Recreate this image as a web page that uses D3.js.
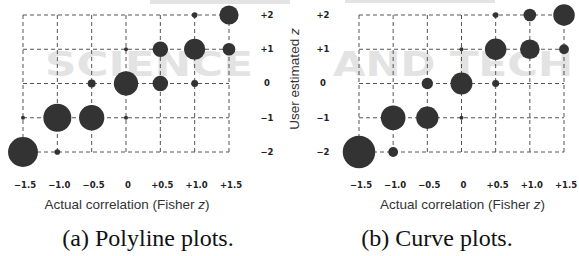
<!DOCTYPE html>
<html>
<head>
<meta charset="utf-8">
<script src="https://cdn.jsdelivr.net/npm/d3@7"></script>
<style>
  body { margin: 0; background: #fff; }
  svg { display: block; }
  .tick { font-family: "DejaVu Sans", sans-serif; font-size: 8.5px; font-weight: bold; fill: #222; }
  .title { font-family: "Liberation Sans", Arial, sans-serif; font-size: 13.5px; fill: #333; }
  .caption { font-family: "Liberation Serif", "Times New Roman", serif; font-size: 24px; fill: #111; }
</style>
</head>
<body>
<div id="vizHolder"></div>
<script>
var width = 579,
    height = 256;

// ticks
var xTicks  = [-1.5, -1, -0.5, 0, 0.5, 1, 1.5],
    xLabels = ['\u22121.5', '\u22121.0', '\u22120.5', '0', '+0.5', '+1.0', '+1.5'],
    yTicks  = [-2, -1, 0, 1, 2],
    yLabels = ['\u22122', '\u22121', '0', '+1', '+2'];

// (actual z, estimated z, count)
var polylineX = [ 1.0, 1.5,  0, 0.5, 1.0, 1.5,  -0.5, 0, 0.5, 1.0,  -1.5, -1.0, -0.5, 0,  -1.5, -1.0],
    polylineY = [ 2,   2,    1, 1,   1,   1,     0,   0, 0,   0,    -1,   -1,   -1,  -1,  -2,   -2],
    polylineN = [ 2,   23,   1, 15,  28,  10,    4,   37, 15, 3,     1,   49,   40,   1,   56,   2];

var curveX = [ 0.5, 1.0, 1.5,  0, 0.5, 1.0, 1.5,  -0.5, 0, 0.5,  -1.0, -0.5, 0,  -1.5, -1.0],
    curveY = [ 2,   2,   2,    1, 1,   1,   1,     0,   0, 0,    -1,   -1,  -1,  -2,   -2],
    curveN = [ 2,   10,  29,   1, 29,  24,  6,     8,   30, 3,    38,   31,   1,   66,   6];

var panels = [
  { name: 'a', x0: 23,  x1: 229, tickX: 267, capX: 148, caption: '(a) Polyline plots.', xs: polylineX, ys: polylineY, ns: polylineN },
  { name: 'b', x0: 359, x1: 564, tickX: 323, capX: 437, caption: '(b) Curve plots.',    xs: curveX,    ys: curveY,    ns: curveN }
];

var svg = d3.select('#vizHolder')
      .append('svg')
      .attr('width', width)
      .attr('height', height);

// faint publisher watermark behind everything
var wm = svg.append('g').attr('fill', '#e3e3e3')
      .style('font-family', '"DejaVu Sans", sans-serif')
      .style('font-weight', 'bold');
wm.append('rect').attr('x', 150).attr('y', 0).attr('width', 140).attr('height', 4);
wm.append('rect').attr('x', 345).attr('y', 0).attr('width', 150).attr('height', 3);
wm.append('text').attr('x', 45).attr('y', 76).attr('font-size', 33)
    .attr('textLength', 208).attr('lengthAdjust', 'spacingAndGlyphs').text('SCIENCE');
wm.append('text').attr('x', 333).attr('y', 76).attr('font-size', 33)
    .attr('textLength', 240).attr('lengthAdjust', 'spacingAndGlyphs').text('AND TECH');

var y = d3.scaleLinear().domain([-2, 2]).range([152, 15]);
var r = d3.scaleSqrt().domain([0, 64]).range([0, 16]);

panels.forEach(function(p) {
  var x = d3.scaleLinear().domain([-1.5, 1.5]).range([p.x0, p.x1]);
  var g = svg.append('g').attr('class', 'panel-' + p.name);

  // dashed grid
  g.selectAll('line.h').data(yTicks).enter()
    .append('line').attr('class', 'h')
    .attr('x1', x(-1.5)).attr('x2', x(1.5))
    .attr('y1', function(d) { return y(d); })
    .attr('y2', function(d) { return y(d); })
    .attr('stroke', '#555').attr('stroke-dasharray', '4,3');

  g.selectAll('line.v').data(xTicks).enter()
    .append('line').attr('class', 'v')
    .attr('y1', y(2)).attr('y2', y(-2))
    .attr('x1', function(d) { return x(d); })
    .attr('x2', function(d) { return x(d); })
    .attr('stroke', '#555').attr('stroke-dasharray', '4,3');

  // bubbles
  var pts = p.xs.map(function(d, i) { return { x: d, y: p.ys[i], n: p.ns[i] }; });
  g.selectAll('circle').data(pts).enter()
    .append('circle')
    .attr('cx', function(d) { return x(d.x); })
    .attr('cy', function(d) { return y(d.y); })
    .attr('r', function(d) { return r(d.n); })
    .attr('fill', '#333');

  // tick labels
  g.selectAll('text.xt').data(xTicks).enter()
    .append('text').attr('class', 'tick xt')
    .attr('x', function(d) { return x(d) + 2; })
    .attr('y', 188)
    .attr('text-anchor', 'middle')
    .text(function(d, i) { return xLabels[i]; });

  g.selectAll('text.yt').data(yTicks).enter()
    .append('text').attr('class', 'tick yt')
    .attr('x', p.tickX)
    .attr('y', function(d) { return y(d); })
    .attr('dy', '0.35em')
    .attr('text-anchor', 'middle')
    .text(function(d, i) { return yLabels[i]; });

  var t = g.append('text').attr('class', 'title')
    .attr('x', (p.x0 + p.x1) / 2 + 1)
    .attr('y', 209)
    .attr('text-anchor', 'middle');
  t.append('tspan').text('Actual correlation (Fisher ');
  t.append('tspan').style('font-style', 'italic').text('z');
  t.append('tspan').text(')');

  g.append('text').attr('class', 'caption')
    .attr('x', p.capX)
    .attr('y', 246)
    .attr('text-anchor', 'middle')
    .text(p.caption);
});

// shared y axis title between the panels
var yt = svg.append('text').attr('class', 'title')
    .attr('transform', 'translate(299,79) rotate(-90)')
    .attr('text-anchor', 'middle');
yt.append('tspan').text('User estimated ');
yt.append('tspan').style('font-style', 'italic').text('z');
</script>
</body>
</html>
